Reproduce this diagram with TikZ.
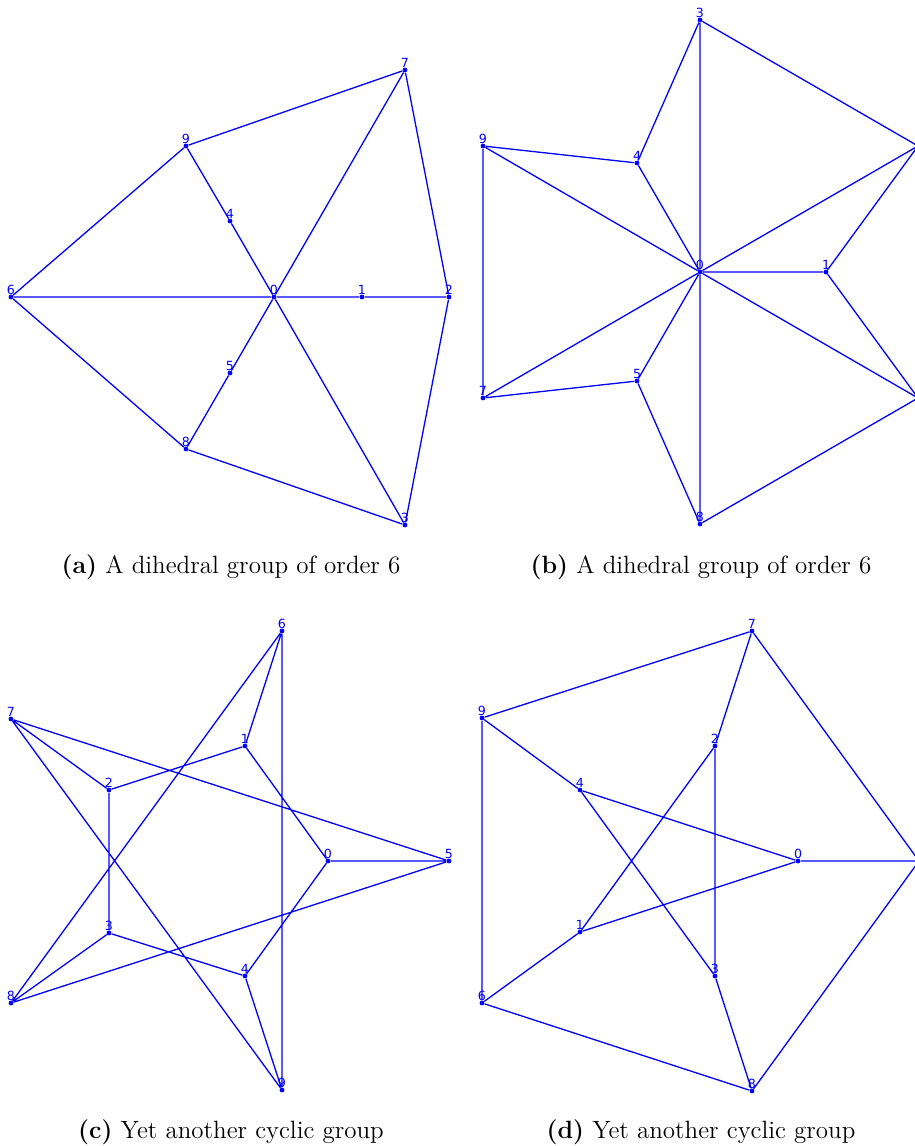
\documentclass[tikz,border=0pt]{standalone}
\usepackage{fontspec}
\newfontfamily\lblfont{DejaVu Sans}
\tikzset{
  vtx/.style={circle, fill=blue, draw=none, inner sep=0pt, minimum size=2.4pt},
  lbl/.style={font=\lblfont\fontsize{6.3}{7}\selectfont, text=blue, inner sep=0pt, label distance=-0.2pt},
  edge/.style={draw=blue, line width=0.65pt},
  capt/.style={font=\fontsize{12.5}{14}\selectfont, inner sep=0pt},
}
\newcommand\vtxnode[3]{\node[vtx,label={[lbl]above:#3}] (#1) at (#2) {};}
\newcommand\vtxbare[2]{\node[vtx] (#1) at (#2) {};}
\begin{document}
\begin{tikzpicture}[x=0.5pt,y=-0.5pt]
\useasboundingbox (0,0) rectangle (915,1146);
\clip (0,0) rectangle (915,1146);
% ---------- panel (a)
\vtxnode{a0}{274,297}{0}
\vtxnode{a1}{362,297}{1}
\vtxnode{a2}{449,297}{2}
\vtxnode{a3}{405,525}{3}
\vtxnode{a4}{230,221}{4}
\vtxnode{a5}{230,373}{5}
\vtxnode{a6}{11,297}{6}
\vtxnode{a7}{405,70}{7}
\vtxnode{a8}{186,449}{8}
\vtxnode{a9}{186,146}{9}
\draw[edge] (a6)--(a9) (a9)--(a7) (a7)--(a2) (a2)--(a3) (a3)--(a8) (a8)--(a6)
  (a6)--(a0) (a0)--(a1) (a1)--(a2) (a9)--(a4) (a4)--(a0) (a0)--(a7)
  (a0)--(a5) (a5)--(a8) (a0)--(a3);
% ---------- panel (b)
\vtxnode{b0}{700,272}{0}
\vtxnode{b1}{826,272}{1}
\vtxbare{b2}{918,146}
\vtxnode{b3}{700,20}{3}
\vtxnode{b4}{637,163}{4}
\vtxnode{b5}{637,381}{5}
\vtxbare{b6}{918,398}
\vtxnode{b7}{483,398}{7}
\vtxnode{b8}{700,524}{8}
\vtxnode{b9}{483,146}{9}
\draw[edge] (b3)--(b0) (b0)--(b8) (b3)--(b2) (b3)--(b4) (b4)--(b9) (b4)--(b0)
  (b9)--(b0) (b9)--(b7) (b7)--(b0) (b7)--(b5) (b5)--(b0) (b5)--(b8)
  (b8)--(b6) (b0)--(b2) (b2)--(b1) (b0)--(b1) (b1)--(b6) (b0)--(b6);
% ---------- panel (c)
\vtxnode{c0}{328,861}{0}
\vtxnode{c1}{245,746}{1}
\vtxnode{c2}{109,790}{2}
\vtxnode{c3}{109,933}{3}
\vtxnode{c4}{245,976}{4}
\vtxnode{c5}{449,861}{5}
\vtxnode{c6}{282,631}{6}
\vtxnode{c7}{11,719}{7}
\vtxnode{c8}{11,1003}{8}
\vtxnode{c9}{282,1090}{9}
\draw[edge] (c6)--(c9) (c6)--(c1) (c6)--(c8) (c7)--(c2) (c7)--(c5) (c7)--(c9)
  (c1)--(c2) (c1)--(c0) (c2)--(c3) (c0)--(c5) (c0)--(c4) (c3)--(c4)
  (c3)--(c8) (c8)--(c5) (c4)--(c9);
% ---------- panel (d)
\vtxnode{d0}{798,861}{0}
\vtxnode{d1}{580,932}{1}
\vtxnode{d2}{715,746}{2}
\vtxnode{d3}{715,976}{3}
\vtxnode{d4}{580,790}{4}
\vtxbare{d5}{919,861}
\vtxnode{d6}{482,1003}{6}
\vtxnode{d7}{752,631}{7}
\vtxnode{d8}{752,1091}{8}
\vtxnode{d9}{482,718}{9}
\draw[edge] (d9)--(d7) (d7)--(d2) (d7)--(d5) (d9)--(d4) (d9)--(d6) (d4)--(d0)
  (d4)--(d3) (d2)--(d1) (d2)--(d3) (d0)--(d5) (d0)--(d1) (d1)--(d6)
  (d6)--(d8) (d3)--(d8) (d8)--(d5);
% ---------- captions
\node[capt] (capa) at (231,567) {\textbf{(a)} A dihedral group of order 6};
\node[capt] (capb) at (701,567) {\textbf{(b)} A dihedral group of order 6};
\node[capt] (capc) at (231,1132) {\textbf{(c)} Yet another cyclic group};
\node[capt] (capd) at (701,1132) {\textbf{(d)} Yet another cyclic group};
\end{tikzpicture}
\end{document}
